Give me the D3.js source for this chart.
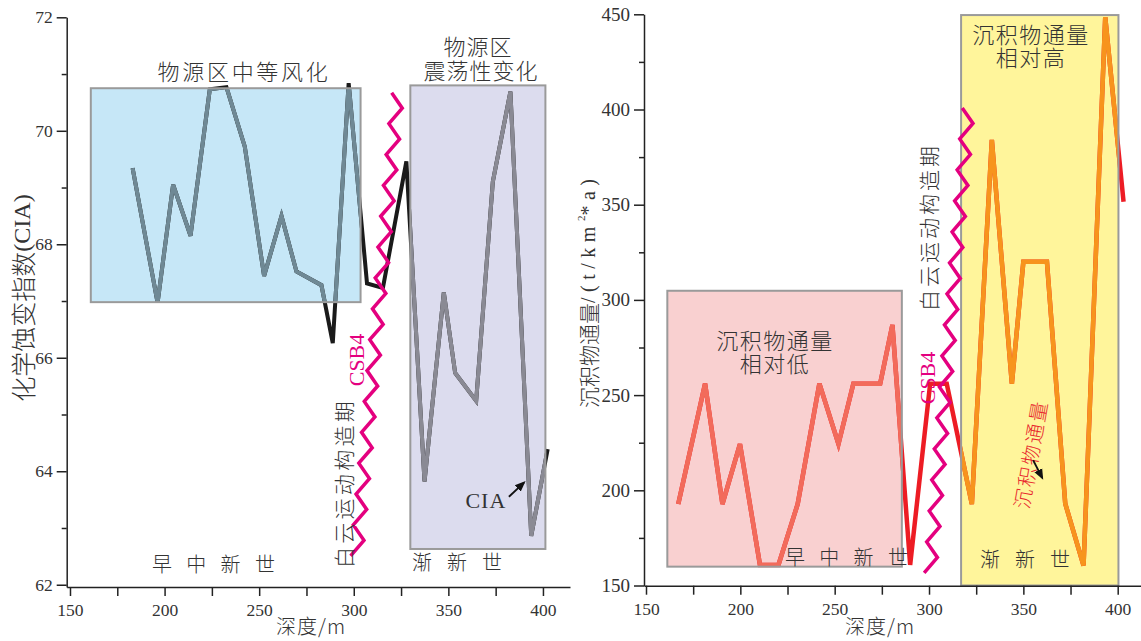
<html>
<head>
<style>
  body { margin: 0; background: #fff; }
  svg text { font-family: "Liberation Serif", "Noto Sans CJK SC", serif; fill: #333; }
  .cjk { font-family: "Noto Sans CJK SC", sans-serif; font-weight: 300; }
  .axis path, .axis line { stroke: #222; stroke-width: 1.5; }
</style>
<script src="https://d3js.org/d3.v7.min.js" charset="utf-8"></script>
</head>
<body>
<div id="viz"></div>
<script>
// ---- data ----
const ciaDepth = [183.1, 196.3, 204.5, 213.7, 223.9, 232.7, 242.4, 252.6, 261.8, 269.7, 282.9, 288.9,
                  297.3, 307.0, 315.4, 327.8, 337.4, 347.6, 353.6, 364.7, 373.5, 382.8, 393.8, 402.5];
const ciaValue = [69.34, 66.97, 69.05, 68.15, 70.73, 70.77, 69.72, 67.44, 68.50, 67.52, 67.28, 66.26,
                  70.84, 67.31, 67.23, 69.46, 63.82, 67.15, 65.73, 65.24, 69.10, 70.69, 62.86, 64.39];

const fluxDepth = [167.1, 181.3, 190.5, 199.8, 210.4, 220.2, 230.4, 241.9, 252.0, 259.9, 274.1, 280.6,
                   290.0, 300.6, 309.4, 322.7, 333.3, 343.9, 350.0, 362.5, 372.2, 381.9, 393.4, 403.1];
const fluxValue = [192.8, 256.0, 192.8, 224.3, 160.8, 160.8, 192.8, 256.0, 224.3, 256.0, 256.0, 286.8,
                   160.8, 256.0, 256.0, 192.8, 384.0, 256.0, 320.0, 320.0, 193.0, 160.5, 448.5, 351.6];

const depthTicks = [150, 200, 250, 300, 350, 400];
const depthMinor = [175, 225, 275, 325, 375];
const ciaTicks = [62, 64, 66, 68, 70, 72];
const ciaMinor = [63, 65, 67, 69, 71];
const fluxTicks = [150, 200, 250, 300, 350, 400, 450];
const fluxMinor = [175, 225, 275, 325, 375, 425];

// shaded intervals: [depth from, depth to, value from, value to]
const ciaBoxes = [[161.0, 303.6, 66.98, 70.75], [329.9, 401.3, 62.63, 70.80]];
const fluxBoxes = [[161.3, 285.6, 159.9, 304.8], [317.0, 400.4, 150.0, 449.6]];

const serif = '"Liberation Serif", "Times New Roman", serif';

const svg = d3.select("#viz").append("svg").attr("width", 1141).attr("height", 641);
const defs = svg.append("defs");

defs.append("marker").attr("id", "arrow").attr("viewBox", "0 0 10 10")
    .attr("refX", 8).attr("refY", 5).attr("markerWidth", 6).attr("markerHeight", 6)
    .attr("orient", "auto-start-reverse")
    .append("path").attr("d", "M0,1 L10,5 L0,9 Z").attr("fill", "#111");

function zigzag(x, y, p0, p1, n, amp) {
    let a = [x(p0[0]), y(p0[1])], b = [x(p1[0]), y(p1[1])];
    let pts = [];
    for (let i = 0; i <= n; i++) {
        let t = i / n;
        pts.push([a[0] + (b[0] - a[0]) * t + (i % 2 ? amp : -amp), a[1] + (b[1] - a[1]) * t]);
    }
    return d3.line()(pts);
}

function panel(o) {
    let g = svg.append("g");
    let x = d3.scaleLinear().domain(o.xDomain).range(o.xRange);
    let y = d3.scaleLinear().domain(o.yDomain).range(o.yRange);
    let pts = o.depth.map((d, i) => [d, o.value[i]]);
    let line = d3.line().x(d => x(d[0])).y(d => y(d[1]));

    // box fills
    o.boxes.forEach((b, i) => {
        g.append("rect")
            .attr("x", x(b[0])).attr("y", y(b[3]))
            .attr("width", x(b[1]) - x(b[0])).attr("height", y(b[2]) - y(b[3]))
            .attr("fill", o.boxFill[i]);
        defs.append("clipPath").attr("id", o.id + "clip" + i)
            .append("rect")
            .attr("x", x(b[0])).attr("y", y(b[3]))
            .attr("width", x(b[1]) - x(b[0])).attr("height", y(b[2]) - y(b[3]));
    });

    // curve, then the parts seen through each box
    g.append("path").attr("d", line(pts)).attr("fill", "none")
        .attr("stroke", o.lineColor).attr("stroke-width", o.lineWidth)
        .attr("stroke-linejoin", "miter").attr("stroke-miterlimit", 4);
    o.boxes.forEach((b, i) => {
        g.append("path").attr("d", line(pts)).attr("fill", "none")
            .attr("clip-path", `url(#${o.id}clip${i})`)
            .attr("stroke", o.boxLine[i]).attr("stroke-width", o.lineWidth)
            .attr("stroke-linejoin", "miter").attr("stroke-miterlimit", 4);
    });

    // box borders
    o.boxes.forEach((b) => {
        g.append("rect")
            .attr("x", x(b[0])).attr("y", y(b[3]))
            .attr("width", x(b[1]) - x(b[0])).attr("height", y(b[2]) - y(b[3]))
            .attr("fill", "none").attr("stroke", "#9a9a9a").attr("stroke-width", 2);
    });

    // unconformity zigzag
    g.append("path").attr("d", zigzag(x, y, o.zig[0], o.zig[1], 30, 6))
        .attr("fill", "none").attr("stroke", "#e4007f").attr("stroke-width", 3.5);

    // axes
    let bottom = o.yRange[0], left = o.xRange[0];
    g.append("g").attr("class", "axis").attr("transform", `translate(${left},0)`)
        .call(d3.axisLeft(y).tickValues(o.yTicks).tickSize(10).tickPadding(4).tickSizeOuter(0))
        .selectAll("text").style("font-size", o.yFont + "px").style("font-family", serif).style("fill", "#333");
    g.append("g").attr("class", "axis").attr("transform", `translate(${left},0)`)
        .call(d3.axisLeft(y).tickValues(o.yMinor).tickSize(5).tickFormat("").tickSizeOuter(0))
        .select(".domain").remove();
    g.append("g").attr("class", "axis").attr("transform", `translate(0,${bottom})`)
        .call(d3.axisBottom(x).tickValues(depthTicks).tickSize(9).tickPadding(8).tickSizeOuter(0))
        .selectAll("text").style("font-size", "17.5px").style("font-family", serif).style("fill", "#333");
    g.append("g").attr("class", "axis").attr("transform", `translate(0,${bottom})`)
        .call(d3.axisBottom(x).tickValues(depthMinor).tickSize(9).tickFormat("").tickSizeOuter(0))
        .select(".domain").remove();

    return { g, x, y };
}

function label(g, txt, px, py, size, opts = {}) {
    let t = g.append("text").attr("class", opts.serif ? null : "cjk")
        .attr("text-anchor", opts.anchor || "middle")
        .attr("dominant-baseline", "central")
        .attr("transform", `translate(${px},${py}) rotate(${opts.rotate || 0})`)
        .style("font-size", size + "px")
        .style("letter-spacing", (opts.ls || 0) + "px")
        .text(txt);
    if (opts.fill) t.style("fill", opts.fill);
    return t;
}

// ---- left panel: CIA ----
let L = panel({
    id: "L", depth: ciaDepth, value: ciaValue, boxes: ciaBoxes,
    xDomain: [148.26, 414.3], xRange: [66.7, 570],
    yDomain: [61.96, 72], yRange: [587, 17.3],
    yTicks: ciaTicks, yMinor: ciaMinor, yFont: 17.5,
    lineColor: "#1a1a1a", lineWidth: 4,
    boxFill: ["#c6e7f7", "#dcdcee"], boxLine: ["#6f8995", "#8a8a94"],
    zig: [[301.5, 62.51], [323.2, 70.67]]
});
label(L.g, "物源区中等风化", 244, 70, 22, { ls: 2.7 });
label(L.g, "物源区", 478, 45, 22, { ls: 1 });
label(L.g, "震荡性变化", 481, 69, 22, { ls: 1 });
label(L.g, "早中新世", 152, 563, 20, { anchor: "start", ls: 14.3 });
label(L.g, "渐新世", 412, 561, 20, { anchor: "start", ls: 15 });
label(L.g, "白云运动构造期", 343, 483, 21, { rotate: -90, ls: 3.3 });
label(L.g, "CSB4", 356, 360, 22, { rotate: -90, serif: true, fill: "#e4007f" });
L.g.append("text").attr("x", L.x(359)).attr("y", L.y(63.35))
    .style("font-size", "22px").style("letter-spacing", "1px").text("CIA");
L.g.append("line")
    .attr("x1", L.x(382)).attr("y1", L.y(63.55)).attr("x2", L.x(390)).attr("y2", L.y(63.8))
    .attr("stroke", "#111").attr("stroke-width", 1.8).attr("marker-end", "url(#arrow)");
let cl = L.g.append("text")
    .attr("transform", "translate(22,298) rotate(-90)")
    .attr("text-anchor", "middle").attr("dominant-baseline", "central");
cl.append("tspan").attr("class", "cjk").style("font-size", "25px").text("化学蚀变指数");
cl.append("tspan").style("font-size", "24px").text("(CIA)");
label(L.g, "深度/m", 311, 625, 20, { ls: 1 });

// ---- right panel: sediment flux ----
let R = panel({
    id: "R", depth: fluxDepth, value: fluxValue, boxes: fluxBoxes,
    xDomain: [148.94, 412.35], xRange: [644, 1141],
    yDomain: [149.9, 450], yRange: [585.7, 14.3],
    yTicks: fluxTicks, yMinor: fluxMinor, yFont: 19,
    lineColor: "#ed1c24", lineWidth: 4.5,
    boxFill: ["#f9d0d0", "#fff59b"], boxLine: ["#f26b5b", "#f7941d"],
    zig: [[300.6, 156.6], [320.8, 400.8]]
});
label(R.g, "沉积物通量", 775, 339, 22, { ls: 1.5 });
label(R.g, "相对低", 775, 362, 22, { ls: 1.5 });
label(R.g, "沉积物通量", 1031, 33, 22, { ls: 1.5 });
label(R.g, "相对高", 1031, 56, 22, { ls: 1.5 });
label(R.g, "早中新世", 785, 556, 20, { anchor: "start", ls: 14.3 });
label(R.g, "渐新世", 980, 558, 20, { anchor: "start", ls: 15 });
label(R.g, "白云运动构造期", 928, 227, 21, { rotate: -90, ls: 3 });
label(R.g, "CSB4", 927, 378, 22, { rotate: -90, serif: true, fill: "#e4007f" });
label(R.g, "沉积物通量", 1030, 454, 20, { rotate: -80, ls: 2, fill: "#e8262d" });
R.g.append("line")
    .attr("x1", R.x(355.2)).attr("y1", R.y(215.8)).attr("x2", R.x(360)).attr("y2", R.y(206.5))
    .attr("stroke", "#111").attr("stroke-width", 1.8).attr("marker-end", "url(#arrow)");

let yl = R.g.append("text")
    .attr("transform", "translate(588,408) rotate(-90)")
    .attr("dominant-baseline", "central");
yl.append("tspan").attr("class", "cjk").style("font-size", "21px").text("沉积物通量");
yl.append("tspan").style("font-size", "20px").style("letter-spacing", "5.5px").text("/(t/km");
yl.append("tspan").attr("dy", -7).style("font-size", "11px").text("2");
yl.append("tspan").attr("dy", 7).style("font-size", "20px").style("letter-spacing", "5.5px").text("*a)");
label(R.g, "深度/m", 880, 625, 20, { ls: 1 });
</script>
</body>
</html>
